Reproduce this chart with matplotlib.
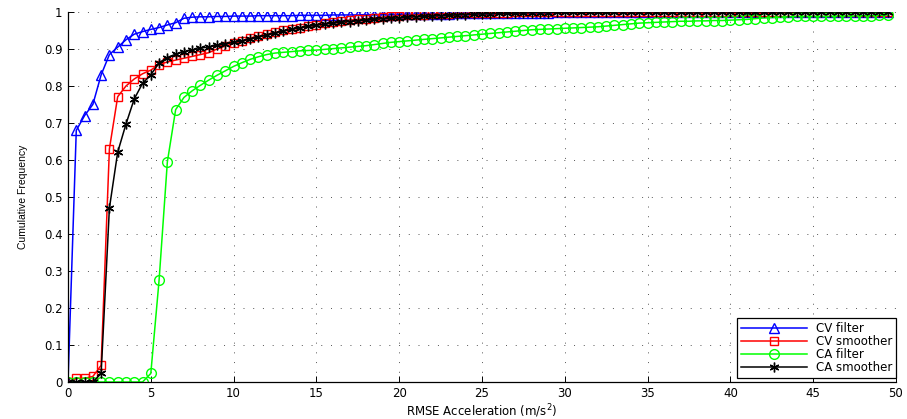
import numpy as np
import matplotlib
matplotlib.use("Agg")
import matplotlib.pyplot as plt

# x grid (RMSE acceleration, m/s^2), step 0.5
x_vals = np.arange(100) * 0.5

cv_filter = [0, 0.68, 0.72, 0.75, 0.83, 0.885, 0.905, 0.925, 0.94, 0.947,
             0.953, 0.958, 0.965, 0.971, 0.983, 0.986, 0.987, 0.987, 0.988, 0.988,
             0.989, 0.989, 0.989, 0.99, 0.99, 0.99, 0.99, 0.99, 0.991, 0.991,
             0.991, 0.991, 0.992, 0.992, 0.992, 0.992, 0.993, 0.993, 0.993, 0.993,
             0.994, 0.994, 0.994, 0.995, 0.995, 0.995, 0.995, 0.996, 0.996, 0.996,
             0.996, 0.997, 0.997, 0.997, 0.997, 0.998, 0.998, 0.998, 0.998, 0.999,
             0.999, 0.999, 0.999, 0.999, 0.999, 0.999, 1, 1, 1, 1,
             1, 1, 1, 1, 1, 1, 1, 1, 1, 1,
             1, 1, 1, 1, 1, 1, 1, 1, 1, 1,
             1, 1, 1, 1, 1, 1, 1, 1, 1, 1]

cv_smoother = [0, 0.01, 0.01, 0.015, 0.045, 0.63, 0.771, 0.80, 0.819, 0.833,
               0.843, 0.858, 0.865, 0.87, 0.875, 0.88, 0.885, 0.89, 0.90, 0.908,
               0.915, 0.922, 0.93, 0.935, 0.94, 0.945, 0.95, 0.954, 0.958, 0.962,
               0.966, 0.969, 0.972, 0.975, 0.978, 0.98, 0.982, 0.984, 0.986, 0.988,
               0.99, 0.991, 0.992, 0.993, 0.994, 0.995, 0.995, 0.996, 0.996, 0.997,
               0.997, 0.998, 0.998, 0.998, 0.999, 0.999, 1, 1, 1, 1,
               1, 1, 1, 1, 1, 1, 1, 1, 1, 1,
               1, 1, 1, 1, 1, 1, 1, 1, 1, 1,
               1, 1, 1, 1, 1, 1, 1, 1, 1, 1,
               1, 1, 1, 1, 1, 1, 1, 1, 1, 1]

ca_filter = [0, 0, 0, 0, 0, 0, 0, 0, 0, 0,
             0.023, 0.275, 0.595, 0.736, 0.769, 0.787, 0.802, 0.816, 0.829, 0.841,
             0.853, 0.863, 0.872, 0.879, 0.885, 0.889, 0.891, 0.893, 0.895, 0.896,
             0.897, 0.899, 0.901, 0.903, 0.905, 0.907, 0.909, 0.912, 0.915, 0.918,
             0.92, 0.922, 0.924, 0.926, 0.928, 0.930, 0.932, 0.934, 0.936, 0.938,
             0.940, 0.942, 0.944, 0.946, 0.948, 0.950, 0.952, 0.953, 0.954, 0.955,
             0.956, 0.957, 0.958, 0.959, 0.960, 0.962, 0.964, 0.966, 0.968, 0.970,
             0.971, 0.972, 0.973, 0.974, 0.975, 0.975, 0.976, 0.976, 0.977, 0.977,
             0.978, 0.979, 0.980, 0.982, 0.984, 0.985, 0.986, 0.987, 0.988, 0.988,
             0.988, 0.988, 0.988, 0.989, 0.989, 0.989, 0.990, 0.990, 0.991, 0.992]

ca_smoother = [0, 0, 0, 0, 0.023, 0.47, 0.621, 0.697, 0.765, 0.807,
               0.83, 0.863, 0.877, 0.886, 0.893, 0.897, 0.902, 0.906, 0.91, 0.914,
               0.918, 0.922, 0.927, 0.932, 0.938, 0.943, 0.948, 0.953, 0.957, 0.961,
               0.964, 0.967, 0.97, 0.972, 0.974, 0.976, 0.978, 0.98, 0.982, 0.983,
               0.984, 0.986, 0.987, 0.988, 0.989, 0.99, 0.991, 0.992, 0.993, 0.994,
               0.995, 0.995, 0.996, 0.996, 0.997, 0.997, 0.998, 0.998, 0.998, 0.999,
               0.999, 0.999, 0.999, 0.999, 0.999, 0.999, 1, 1, 1, 1,
               1, 1, 1, 1, 1, 1, 1, 1, 1, 1,
               1, 1, 1, 1, 1, 1, 1, 1, 1, 1,
               1, 1, 1, 1, 1, 1, 1, 1, 1, 1]

series_names = ["CV filter", "CV smoother", "CA filter", "CA smoother"]
x_ticks = [0, 5, 10, 15, 20, 25, 30, 35, 40, 45, 50]
y_ticks = [0, 0.1, 0.2, 0.3, 0.4, 0.5, 0.6, 0.7, 0.8, 0.9, 1]
y_tick_labels = ["0", "0.1", "0.2", "0.3", "0.4", "0.5", "0.6", "0.7", "0.8", "0.9", "1"]

plt.rcParams['font.family'] = ['DejaVu Sans']
plt.rcParams['mathtext.fontset'] = 'dejavusans'

fig = plt.figure(figsize=(9.07, 4.19), dpi=100)
ax = fig.add_axes([68 / 907, 1 - 382 / 419, (896 - 68) / 907, (382 - 12) / 419])

styles = [
    dict(color=(0, 0, 1), marker='^', ms=7.5),
    dict(color=(1, 0, 0), marker='s', ms=6),
    dict(color=(0, 1, 0), marker='o', ms=7),
    dict(color=(0, 0, 0), marker=(6, 2, 0), ms=7),
]
data = [cv_filter, cv_smoother, ca_filter, ca_smoother]
for name, ys, st in zip(series_names, data, styles):
    ax.plot(x_vals, ys, color=st['color'], marker=st['marker'], markersize=st['ms'],
            markerfacecolor='none', markeredgecolor=st['color'], markeredgewidth=1.0,
            linewidth=1.1, label=name)

ax.set_xlim(0, 50)
ax.set_ylim(0, 1)
ax.set_xticks(x_ticks)
ax.set_yticks(y_ticks)
ax.set_yticklabels(y_tick_labels)
ax.tick_params(direction='in', length=4, width=0.7, labelsize=8.5, pad=4,
               top=False, right=False)
ax.tick_params(axis='x', pad=3.5)
for s in ['top', 'right']:
    ax.spines[s].set_visible(False)
for s in ['left', 'bottom']:
    ax.spines[s].set_linewidth(0.9)

ax.grid(True, color='#555555', linestyle=(0, (1, 9)), linewidth=0.7)
ax.set_axisbelow(True)

ax.set_xlabel('RMSE Acceleration (m/s$^2$)', fontsize=8.5)
ax.xaxis.set_label_coords(0.5, -0.056)
ax.set_ylabel('Cumulative Frequency', fontsize=7.5, family=['Liberation Sans', 'DejaVu Sans'])
ax.yaxis.set_label_coords(-0.048, 0.5)

leg = ax.legend(loc='lower right', bbox_to_anchor=(1.0, 0.012), borderaxespad=0,
                fontsize=8.5, numpoints=1, handlelength=5.6, handletextpad=0.8,
                labelspacing=0.0, borderpad=0.3, fancybox=False, framealpha=1,
                edgecolor='black')
leg.get_frame().set_linewidth(0.9)

fig.savefig('out.png', dpi=100)
